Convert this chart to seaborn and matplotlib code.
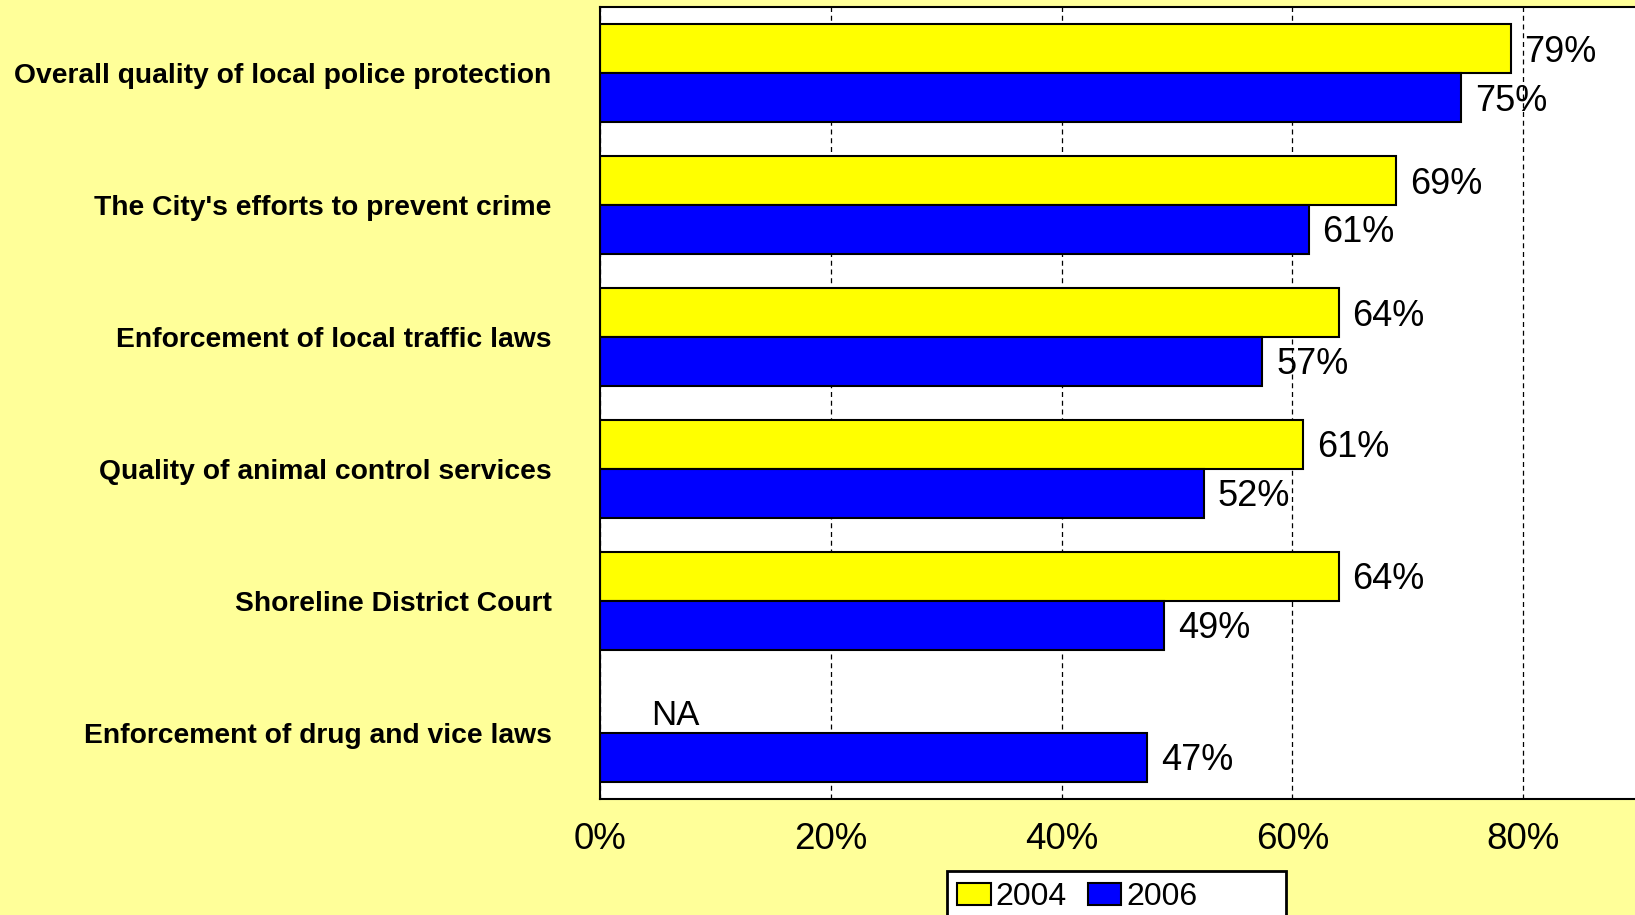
import matplotlib.pyplot as plt
import matplotlib.patches as mpatches
import seaborn as sns
import pandas as pd
import numpy as np

# data
items = ['Overall quality of local police protection',
         "The City's efforts to prevent crime",
         'Enforcement of local traffic laws',
         'Quality of animal control services',
         'Shoreline District Court',
         'Enforcement of drug and vice laws']
years = ['2004', '2006']
vals_2004 = [78.9, 69.0, 64.0, 60.9, 64.0, np.nan]
vals_2006 = [74.6, 61.4, 57.4, 52.3, 48.9, 47.4]
x_ticks = [0, 20, 40, 60, 80]
colors = {'2004': '#FFFF00', '2006': '#0000FF'}

df = pd.DataFrame({
    'item': items * 2,
    'year': ['2004'] * len(items) + ['2006'] * len(items),
    'value': vals_2004 + vals_2006,
})

sns.set_style('white')
plt.rcParams['font.family'] = ['Liberation Sans', 'DejaVu Sans']
plt.rcParams['text.color'] = 'black'
plt.rcParams['xtick.color'] = 'black'
plt.rcParams['ytick.color'] = 'black'

fig = plt.figure(figsize=(16.35, 9.15), dpi=100)
fig.patch.set_facecolor('#FFFF99')
ax = fig.add_axes([0.367, 0.1271, 0.7058, 0.865])
ax.set_facecolor('white')

sns.barplot(data=df, y='item', x='value', hue='year', order=items,
            hue_order=years, palette=colors, saturation=1, orient='h',
            width=0.74, errorbar=None, edgecolor='black', linewidth=1.5,
            ax=ax, legend=False)

ax.set_xlim(0, 100)
ax.set_ylim(len(items) - 0.5, -0.5)
ax.set_xticks(x_ticks)
ax.set_xticklabels([f'{t}%' for t in x_ticks], fontsize=26.5)
ax.set_yticks(range(len(items)))
ax.set_yticklabels(items, fontsize=20.3, fontweight='bold')
ax.tick_params(axis='y', length=0, pad=35)
ax.tick_params(axis='x', length=0, pad=17)
ax.set_xlabel('')
ax.set_ylabel('')

ax.xaxis.grid(True, color='black', linewidth=0.9, linestyle=(0, (4, 3)))
ax.set_axisbelow(True)
for side in ['left', 'bottom', 'top']:
    ax.spines[side].set_visible(True)
    ax.spines[side].set_color('black')
    ax.spines[side].set_linewidth(1.5)
ax.spines['right'].set_visible(False)

# value labels
for cont in ax.containers:
    for bar in cont:
        w = bar.get_width()
        if np.isnan(w) or w == 0:
            continue
        yc = bar.get_y() + bar.get_height() / 2
        ax.annotate(f'{w:.0f}%', (w, yc), xytext=(10, -2.5),
                    textcoords='offset points', fontsize=26,
                    va='center', ha='left')

# NA marker in the empty 2004 slot of the last item
blue_bars = list(ax.containers[1])
last_blue = blue_bars[-1]
ax.annotate('NA', (4.45, last_blue.get_y() - last_blue.get_height() / 2),
            xytext=(0, -5), textcoords='offset points', fontsize=25,
            va='center', ha='left')

# legend box running off the bottom edge
fig.patches.append(mpatches.Rectangle((0.5792, -0.05), 0.2073, 0.0985,
                                      transform=fig.transFigure,
                                      facecolor='white', edgecolor='black',
                                      linewidth=2, zorder=1))
handles = [mpatches.Patch(facecolor=colors[y], edgecolor='black', linewidth=1.5)
           for y in years]
fig.legend(handles, years, loc='upper left', bbox_to_anchor=(0.5855, 0.036),
           ncol=2, frameon=False, fontsize=23, handlelength=1.05,
           handleheight=0.68, handletextpad=0.15, columnspacing=0.65,
           borderpad=0, borderaxespad=0)

fig.savefig('out.png', dpi=100, facecolor=fig.get_facecolor())
